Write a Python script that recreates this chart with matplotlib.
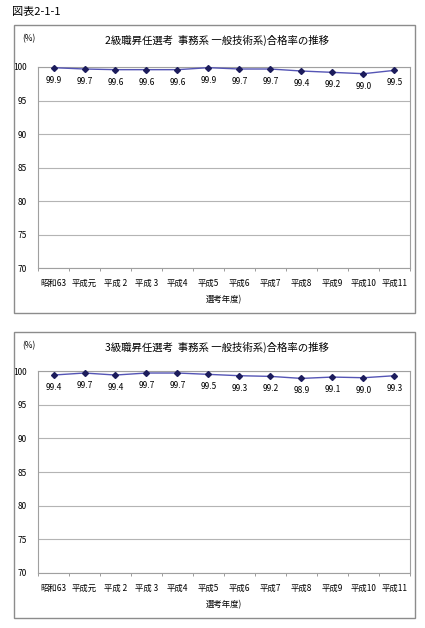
import numpy as np
import matplotlib
matplotlib.use("Agg")
import matplotlib.pyplot as plt
from matplotlib.patches import Rectangle

plt.rcParams['font.family'] = ['Noto Sans CJK JP', 'DejaVu Sans']

years = ["昭和63", "平成元", "平成 2", "平成 3", "平成4", "平成5",
         "平成6", "平成7", "平成8", "平成9", "平成10", "平成11"]
rate_2kyu = [99.9, 99.7, 99.6, 99.6, 99.6, 99.9, 99.7, 99.7, 99.4, 99.2, 99.0, 99.5]
rate_3kyu = [99.4, 99.7, 99.4, 99.7, 99.7, 99.5, 99.3, 99.2, 98.9, 99.1, 99.0, 99.3]
titles = ["2級職昇任選考  事務系 一般技術系)合格率の推移",
          "3級職昇任選考  事務系 一般技術系)合格率の推移"]

W, H = 425, 628
fig = plt.figure(figsize=(W / 100, H / 100), dpi=100)


def fx(x):
    return x / W


def fy(y):
    return 1 - y / H


fig.text(fx(12), fy(12), "図表2-1-1", fontsize=8, va='center', ha='left')

# (box top, box bottom, plot top, plot bottom) in pixels
panels = [(25, 313, 67, 268), (332, 618, 371, 573)]

for (btop, bbot, ptop, pbot), vals, title in zip(panels, [rate_2kyu, rate_3kyu], titles):
    fig.patches.append(Rectangle((fx(14), fy(bbot)), fx(415 - 14), (bbot - btop) / H,
                                 transform=fig.transFigure, fill=False,
                                 edgecolor='#8c8c8c', lw=1.0))
    ax = fig.add_axes([fx(38), fy(pbot), fx(410 - 38), (pbot - ptop) / H])
    x = np.arange(len(years))
    ax.plot(x, vals, color='#5555b5', lw=1.0, marker='D', ms=3,
            mfc='#1c1c5c', mec='#1c1c5c', zorder=3, clip_on=False)
    for xi, v in zip(x, vals):
        ax.annotate(f"{v:.1f}", (xi, v), xytext=(0, -9), textcoords='offset points',
                    ha='center', va='center', fontsize=6)
    ax.set_ylim(70, 100)
    ax.set_xlim(-0.5, len(years) - 0.5)
    ax.set_yticks(range(70, 101, 5))
    ax.grid(axis='y', color='#b4b4b4', lw=0.8)
    ax.set_axisbelow(True)
    ax.set_xticks(x)
    ax.set_xticklabels(years, fontsize=6)
    ax.set_xticks(np.arange(-0.5, len(years), 1), minor=True)
    ax.tick_params(axis='x', which='major', length=0, pad=8)
    ax.tick_params(axis='x', which='minor', length=2.5, color='#8c8c8c')
    ax.tick_params(axis='y', length=0, labelsize=6, pad=8)
    for s in ax.spines.values():
        s.set_color('#a0a0a0')
        s.set_linewidth(0.8)
    ax.set_xlabel("選考年度)", fontsize=6, labelpad=5)
    fig.text(fx(217), fy(btop + 15), title, fontsize=7.5, ha='center', va='center')
    fig.text(fx(22), fy(btop + 14), "(%)", fontsize=6, ha='left', va='center')

fig.savefig("out.png", dpi=100)
